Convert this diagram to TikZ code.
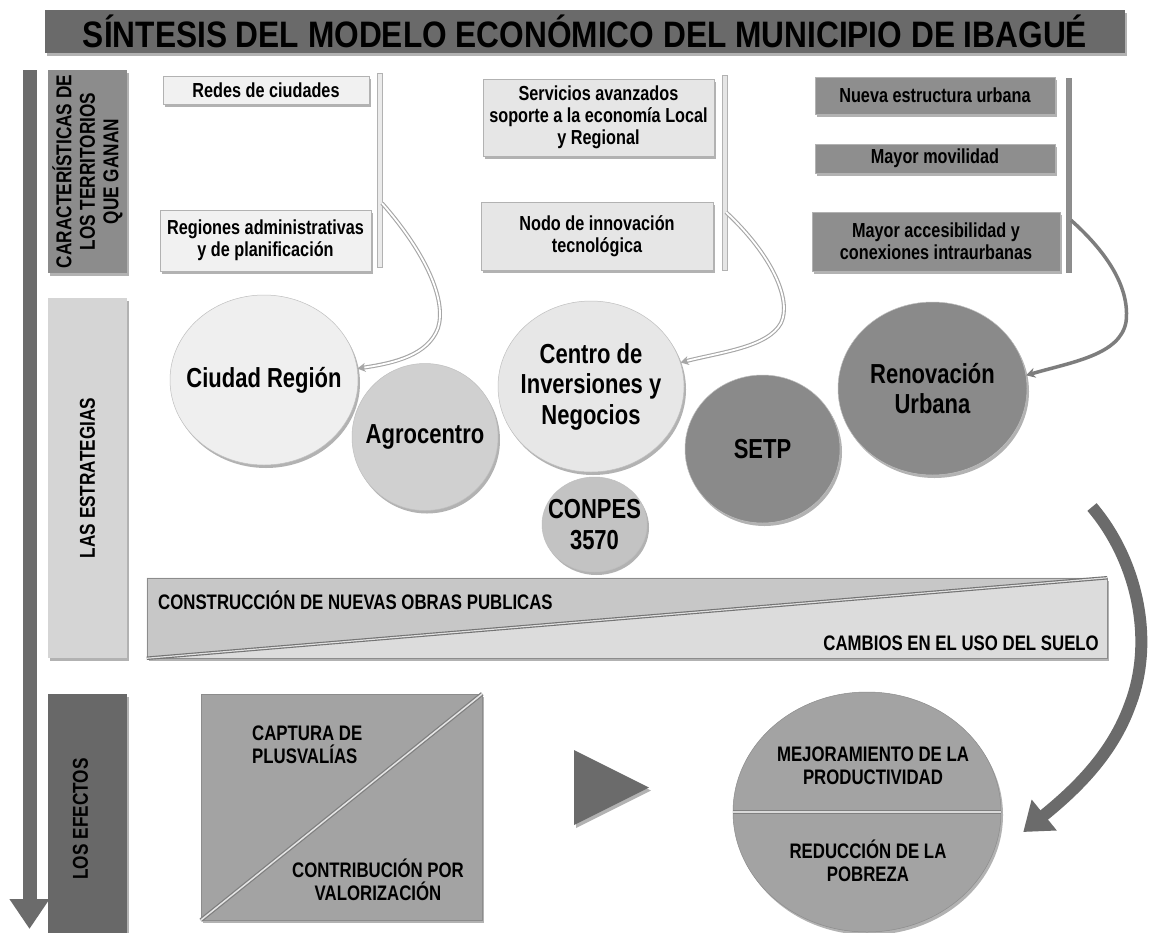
\documentclass[tikz,border=0pt]{standalone}
\usepackage{fontspec}
\setmainfont{Liberation Sans}[FakeStretch=0.8]
\newfontfamily\titlefont{Liberation Sans}[FakeStretch=0.86]
\usetikzlibrary{arrows.meta,shadows,calc,shapes.geometric}
\definecolor{cTitle}{HTML}{6A6A6A}
\definecolor{cArrow}{HTML}{6B6B6B}
\definecolor{cBoxA}{HTML}{8C8C8C}
\definecolor{cBoxB}{HTML}{D5D5D5}
\definecolor{cBoxC}{HTML}{686868}
\definecolor{cColA}{HTML}{F1F1F1}
\definecolor{cColB}{HTML}{E6E6E6}
\definecolor{cColC}{HTML}{8E8E8E}
\definecolor{cCiudad}{HTML}{EFEFEF}
\definecolor{cAgro}{HTML}{D0D0D0}
\definecolor{cCentro}{HTML}{E7E7E7}
\definecolor{cConpes}{HTML}{C3C3C3}
\definecolor{cSetp}{HTML}{8A8A8A}
\definecolor{cWedgeA}{HTML}{C7C7C7}
\definecolor{cWedgeB}{HTML}{DCDCDC}
\definecolor{cEff}{HTML}{A3A3A3}
\definecolor{cConnC}{HTML}{7D7D7D}
\begin{document}
\begin{tikzpicture}[x=1pt,y=-1pt,
  shd/.style={drop shadow={shadow xshift=2pt,shadow yshift=-3pt,opacity=0.3,fill=black}},
  rbox/.style={rectangle,draw=black!30,line width=0.5pt,inner sep=0pt,shd},
  btxt/.style={font=\fontsize{20.3}{22}\selectfont\bfseries,align=center},
  side/.style={rectangle,inner sep=0pt,minimum width=79pt,shd},
  sidetxt/.style={font=\fontsize{21.5}{23.5}\selectfont\bfseries,align=center,rotate=90},
  bub/.style={ellipse,draw=black!25,line width=0.5pt,inner sep=0pt,shd},
  bubtxt/.style={font=\fontsize{27.5}{30.5}\selectfont\bfseries,align=center},
  captxt/.style={font=\fontsize{21}{23}\selectfont\bfseries,align=center,inner sep=0pt},
  vbar/.style={rectangle,inner sep=0pt,minimum width=5pt,draw=black!30,line width=0.4pt},
  lconnout/.style={draw=black!35,line width=4pt,-{Stealth[length=8pt,width=9pt]}},
  lconnin/.style={draw=white,line width=1.8pt,shorten >=7pt},
  dconn/.style={draw=cConnC,line width=3.5pt,-{Stealth[length=9pt,width=10pt]}},
]
\useasboundingbox (0,0) rectangle (1154,932);
\fill[white] (0,0) rectangle (1154,932);

% title
\node[rectangle,fill=cTitle,minimum width=1080pt,minimum height=43pt,inner sep=0pt,shd,
  font=\titlefont\fontsize{36.8}{40}\selectfont\bfseries] (title) at (585,31.5)
  {SÍNTESIS DEL MODELO ECONÓMICO DEL MUNICIPIO DE IBAGUÉ};

% left arrow
\coordinate (la0) at (29.5,70);
\coordinate (la1) at (29.5,929);
\draw[cArrow,line width=14pt,-{Triangle[length=30pt,width=38pt]}] (la0) -- (la1);

% side labels
\node[side,fill=cBoxA,minimum height=203pt,
  label={[sidetxt]center:{CARACTERÍSTICAS DE\\LOS TERRITORIOS\\QUE GANAN}}] (sideA) at (87.5,171.5) {};
\node[side,fill=cBoxB,minimum height=360pt,
  label={[sidetxt]center:{LAS ESTRATEGIAS}}] (sideB) at (87.5,478) {};
\node[side,fill=cBoxC,minimum height=250pt,
  label={[sidetxt,yshift=7pt]center:{LOS EFECTOS}}] (sideC) at (87.5,819) {};

% column 1
\node[rbox,fill=cColA,minimum width=206pt,minimum height=28pt,btxt] (redes) at (266,90) {Redes de ciudades};
\node[rbox,fill=cColA,minimum width=211pt,minimum height=61pt,btxt] (regiones) at (265.5,240.5) {Regiones administrativas\\y de planificación};
\node[vbar,fill=black!8,minimum height=194pt] (brA) at (380,170) {};

% column 2
\node[rbox,fill=cColB,minimum width=231pt,minimum height=77pt,btxt] (serv) at (598.5,117.5) {Servicios avanzados\\soporte a la economía Local\\y Regional};
\node[rbox,fill=cColB,minimum width=232pt,minimum height=68pt,btxt] (nodo) at (597,236) {Nodo de innovación\\tecnológica};
\node[vbar,fill=black!10,minimum height=195pt] (brB) at (724.5,172.5) {};

% column 3
\node[rbox,fill=cColC,minimum width=240pt,minimum height=37pt,btxt] (nueva) at (935,95.5) {Nueva estructura urbana};
\node[rbox,fill=cColC,minimum width=240pt,minimum height=29pt,btxt] (movil) at (935,158.5) {Mayor movilidad};
\node[rbox,fill=cColC,minimum width=248pt,minimum height=59pt,btxt] (acces) at (936,241.5) {Mayor accesibilidad y\\conexiones intraurbanas};
\node[vbar,fill=cColC,draw=black!45,minimum height=194pt] (brC) at (1068.5,175) {};

% strategy bubbles
\node[bub,fill=cCiudad,minimum width=188pt,minimum height=170pt,
  label={[bubtxt]center:{Ciudad Región}}] (ciudad) at (264,380) {};
\node[bub,fill=cAgro,minimum width=146pt,minimum height=147pt,
  label={[bubtxt]center:{Agrocentro}}] (agro) at (425,437) {};
\node[bub,fill=cCentro,minimum width=186pt,minimum height=171pt,
  label={[bubtxt]center:{Centro de\\Inversiones y\\Negocios}}] (centro) at (591,386.5) {};
\node[bub,fill=cConpes,minimum width=105pt,minimum height=95pt,
  label={[bubtxt]center:{CONPES\\3570}}] (conpes) at (594.5,524.5) {};
\node[bub,fill=cSetp,minimum width=155pt,minimum height=148pt,
  label={[bubtxt]center:{SETP}}] (setp) at (762.5,449) {};
\node[bub,fill=cSetp,minimum width=189pt,minimum height=173pt,
  label={[bubtxt]center:{Renovación\\Urbana}}] (renov) at (932.5,388.5) {};

% connectors from brackets
\coordinate (cAs) at ([xshift=2pt,yshift=64pt]brA.south);
\coordinate (cBs) at ([xshift=1.5pt,yshift=58pt]brB.south);
\coordinate (cCs) at ([xshift=2.5pt,yshift=52pt]brC.south);
\draw[lconnout] (cAs) .. controls (425,252) and (447,300) .. (438,328) .. controls (428,355) and (395,363) .. (ciudad.7);
\draw[lconnin] (cAs) .. controls (425,252) and (447,300) .. (438,328) .. controls (428,355) and (395,363) .. (ciudad.7);
\draw[lconnout] (cBs) .. controls (772,255) and (792,300) .. (781,323) .. controls (768,347) and (722,352) .. (centro.15);
\draw[lconnin] (cBs) .. controls (772,255) and (792,300) .. (781,323) .. controls (768,347) and (722,352) .. (centro.15);
\draw[dconn] (cCs) .. controls (1110,255) and (1130,290) .. (1126,322) .. controls (1120,355) and (1072,362) .. (renov.8);

% wedge bar
\node[rectangle,fill=cWedgeB,draw=black!45,line width=0.5pt,minimum width=960pt,minimum height=80pt,inner sep=0pt,shd] (wedge) at (627,618) {};
\fill[cWedgeA] (wedge.north west) -- (wedge.north east) -- (wedge.south west) -- cycle;
\draw[black!45,line width=0.5pt] (wedge.north west) rectangle (wedge.south east);
\draw[black!55,line width=3.5pt] (wedge.south west) -- (wedge.north east);
\draw[black!12,line width=1.2pt] (wedge.south west) -- (wedge.north east);
\node[captxt,anchor=west] (constr) at (158,600) {CONSTRUCCIÓN DE NUEVAS OBRAS PUBLICAS};
\node[captxt,anchor=east] (cambios) at (1099,643) {CAMBIOS EN EL USO DEL SUELO};

% effects square
\node[rectangle,fill=cEff,draw=black!45,line width=0.5pt,minimum width=281pt,minimum height=226pt,inner sep=0pt,shd] (sq) at (341.5,807) {};
\draw[black!50,line width=4pt] (sq.south west) -- (sq.north east);
\draw[black!10,line width=1.5pt] (sq.south west) -- (sq.north east);
\node[captxt,align=left,anchor=west] (captura) at (252,744.5) {CAPTURA DE\\PLUSVALÍAS};
\node[captxt] (contrib) at (378,880) {CONTRIBUCIÓN POR\\VALORIZACIÓN};

% play triangle
\path[fill=cArrow,shd] (574,750) -- (649,787.5) -- (574,825) -- cycle;

% effects circle
\node[ellipse,fill=cEff,draw=black!45,line width=0.5pt,minimum width=268pt,minimum height=240pt,inner sep=0pt,shd] (eff) at (867,812) {};
\draw[black!50,line width=4pt] (eff.west) -- (eff.east);
\draw[black!15,line width=1.5pt] (eff.west) -- (eff.east);
\node[captxt] (mejor) at (873,765.5) {MEJORAMIENTO DE LA\\PRODUCTIVIDAD};
\node[captxt] (reduc) at (868,860.5) {REDUCCIÓN DE LA\\POBREZA};

% big curved arrow
\coordinate (bg0) at (1092,507);
\draw[cArrow,line width=12pt,-{Triangle[length=27pt,width=38pt]}] (bg0) .. controls (1137,560) and (1155,640) .. (1130,705) .. controls (1112,755) and (1075,790) .. ([xshift=22pt,yshift=-20pt]eff.east);
\end{tikzpicture}
\end{document}
